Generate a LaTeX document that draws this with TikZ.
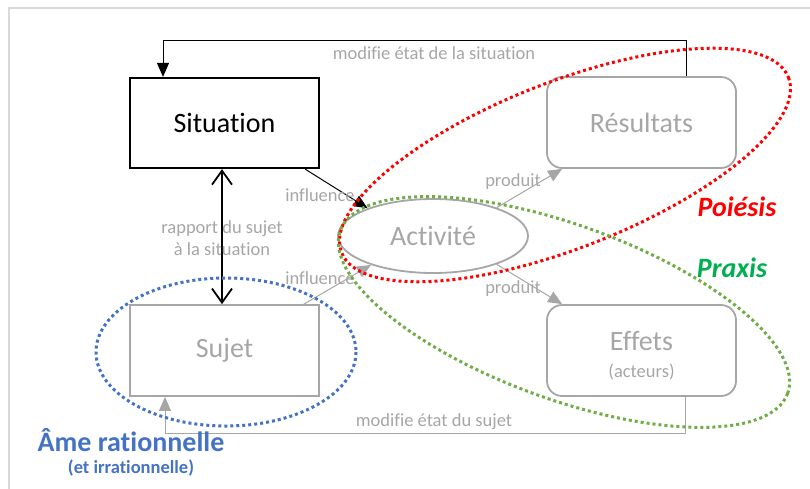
\documentclass[tikz,border=0pt]{standalone}
\usepackage{fontspec}
\setmainfont{Carlito}[Ligatures=NoCommon]
\usetikzlibrary{shapes.geometric}
\usetikzlibrary{arrows.meta}
\usetikzlibrary{positioning}
\definecolor{boxgray}{HTML}{A6A6A6}
\definecolor{framegray}{HTML}{D9D9D9}
\definecolor{poired}{HTML}{FF0000}
\definecolor{praxtxt}{HTML}{00B050}
\definecolor{praxdots}{HTML}{70AD47}
\definecolor{ameblue}{HTML}{4472C4}
\newcommand{\bigtxt}{\fontsize{28}{32}\selectfont}
\newcommand{\smalltxt}{\fontsize{18.5}{22}\selectfont}

\begin{document}
\begin{tikzpicture}[x=1pt,y=-1pt,>={Triangle[length=14pt,width=12pt]},
    main box/.style={rectangle,draw,line width=2.2pt,minimum width=189pt,minimum height=90pt,font=\bigtxt},
    gray box/.style={rectangle,draw=boxgray,line width=1.8pt,text=boxgray,minimum width=189pt,minimum height=91pt,font=\bigtxt},
    act node/.style={ellipse,draw=boxgray,line width=1.8pt,text=boxgray,minimum width=190pt,minimum height=74pt,inner sep=0pt,font=\bigtxt},
    lbl/.style={text=boxgray,font=\smalltxt,inner sep=0pt},
    gray line/.style={->,color=boxgray,line width=1pt},
    dots/.style={line width=3pt,dash pattern=on 3pt off 3pt}]
   \useasboundingbox (0,0) rectangle (810,488);
   \draw[framegray,line width=1.5pt] (9,492) -- (9,8) -- (814,8);
   \begin{scope}
      \node[main box] (sit) at (224.5,123) {Situation};
      \node[gray box,rounded corners=15pt] (res) at (641.5,122.5) {Résultats};
      \node[act node] (act) at (433,236) {Activité};
      \node[gray box] (suj) at (224.5,350.5) {Sujet};
      \node[gray box,rounded corners=15pt,align=center] (eff) at (641.5,350.5) {\rule{0pt}{30pt}Effets\\[-5pt]{\smalltxt(acteurs)}};
      % influences et produits
      \path[->,line width=1pt] ([xshift=-15pt]sit.south east) edge (act.157);
      \path[gray line] ([xshift=-16pt]suj.north east) edge (act.205);
      \path[gray line] (act.24) edge ([xshift=16pt]res.south west);
      \path[gray line] (act.336) edge ([xshift=16pt]eff.north west);
      \draw[{Straight Barb[length=14pt,width=20pt]}-{Straight Barb[length=14pt,width=20pt]},line width=1.8pt] ([xshift=-2.5pt]sit.south) -- ([xshift=-2.5pt]suj.north);
      % boucles de retour
      \coordinate (restop) at (686,40);
      \coordinate (sittop) at (163,40);
      \draw[->,line width=1pt] (res.north -| restop) -- (restop) -- (sittop) -- (sit.north -| sittop);
      \coordinate (effbot) at (685,433);
      \coordinate (sujbot) at (165,433);
      \draw[gray line] (eff.south -| effbot) -- (effbot) -- (sujbot) -- (suj.south -| sujbot);
      \node[lbl] (lsit) at (434,53) {modifie état de la situation};
      \node[lbl] (lsuj) at (434,422) {modifie état du sujet};
      \node[lbl,align=center] (lrap) at (222,238) {rapport du sujet\\à la situation};
      \node[lbl] (linf1) at (320,195) {influence};
      \node[lbl] (linf2) at (320,278) {influence};
      \node[lbl] (lpro1) at (513,182) {produit};
      \node[lbl] (lpro2) at (513,289) {produit};
      % ensembles
      \draw[dots,poired,rotate around={21.4:(565,165)}] (565,165) ellipse [x radius=240,y radius=83];
      \draw[dots,praxdots,rotate around={-20:(564,312)}] (564,312) ellipse [x radius=238,y radius=87];
      \draw[dots,ameblue] (226,352) ellipse [x radius=130,y radius=74];
      \node[font=\bigtxt\bfseries\itshape,text=poired] (poi) at (737,207) {Poiésis};
      \node[font=\bigtxt\bfseries\itshape,text=praxtxt] (pra) at (732,268) {Praxis};
      \node[font=\bigtxt\bfseries,text=ameblue] (ame) at (131,440) {Âme rationnelle};
      \node[font=\smalltxt\bfseries,text=ameblue] (ameb) at (131,468) {(et irrationnelle)};
    \end{scope}
  \end{tikzpicture}
\end{document}
